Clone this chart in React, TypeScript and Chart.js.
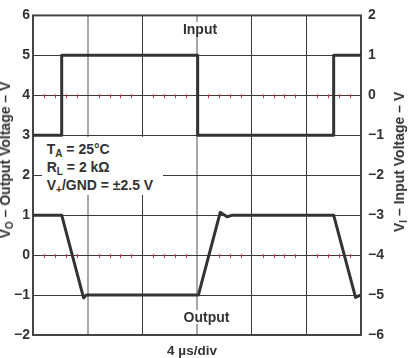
import React, { useEffect, useRef } from "react";
import { Chart, registerables } from "chart.js";

Chart.register(...registerables);

// time axis in µs (4 µs/div, 6 divisions)
const timeTicks = [0, 4, 8, 12, 16, 20, 24];
const grayTimeLines = [4, 12];
// left axis: output voltage
const leftTicks = [-2, -1, 0, 1, 2, 3, 4, 5, 6];
// right axis: input voltage
const rightTicks = [-6, -5, -4, -3, -2, -1, 0, 1, 2];
// graticule rows (left-axis values) carrying red minor marks
const markedRows = [4, 0];

const outputTimes = [0, 2.1, 3.7, 3.9, 12.1, 13.7, 14.2, 14.6, 22.0, 23.6, 23.95];
const outputVolts = [1, 1, -1.07, -1.0, -1.0, 1.07, 0.96, 1.0, 1.0, -1.06, -1.0];

const inputTimes = [0, 2.1, 2.1, 12.05, 12.05, 22.0, 22.0, 24];
const inputVolts = [-1, -1, 1, 1, -1, -1, 1, 1];

const FONT = "'Liberation Sans', Arial, Helvetica, sans-serif";
const INK = "#333333";

const fmt = (v: number) => (v < 0 ? "\u2212" + Math.abs(v) : String(v));

const framePlugin = {
  id: "frame",
  beforeDatasetsDraw(chart: any) {
    const { ctx, chartArea, scales } = chart;
    const x = scales.x;
    const y = scales.y;
    ctx.save();
    // red minor marks
    ctx.strokeStyle = "#d8323e";
    ctx.lineWidth = 1;
    for (let i = 0; i < timeTicks.length - 1; i++) {
      const a = timeTicks[i];
      const b = timeTicks[i + 1];
      for (let k = 1; k < 5; k++) {
        const px = Math.round(x.getPixelForValue(a + ((b - a) * k) / 5)) + 0.5;
        for (const r of markedRows) {
          const py = y.getPixelForValue(r);
          ctx.beginPath();
          ctx.moveTo(px, py - 1);
          ctx.lineTo(px, py + 3);
          ctx.stroke();
        }
      }
    }
    // frame
    ctx.strokeStyle = "#444444";
    ctx.lineWidth = 2;
    ctx.strokeRect(
      chartArea.left,
      chartArea.top,
      chartArea.right - chartArea.left,
      chartArea.bottom - chartArea.top
    );
    ctx.restore();
  },
};

const subStyle: React.CSSProperties = {
  fontSize: "10px",
  position: "relative",
  top: "3px",
  verticalAlign: "baseline",
};

export default function App() {
  const canvasRef = useRef<HTMLCanvasElement | null>(null);

  useEffect(() => {
    const canvas = canvasRef.current;
    if (!canvas) return;
    const chart = new Chart(canvas, {
      type: "line",
      data: {
        datasets: [
          {
            label: "Input",
            data: inputTimes.map((t, i) => ({ x: t, y: inputVolts[i] })),
            yAxisID: "y2",
            borderColor: INK,
            borderWidth: 3,
            pointRadius: 0,
            tension: 0,
            borderJoinStyle: "round",
          },
          {
            label: "Output",
            data: outputTimes.map((t, i) => ({ x: t, y: outputVolts[i] })),
            yAxisID: "y",
            borderColor: INK,
            borderWidth: 3,
            pointRadius: 0,
            tension: 0,
            borderJoinStyle: "round",
          },
        ],
      },
      options: {
        animation: false,
        responsive: false,
        devicePixelRatio: 1,
        layout: { padding: { top: 6, left: 0, right: 0, bottom: 0 } },
        plugins: {
          legend: { display: false },
          tooltip: { enabled: false },
          title: { display: false },
        },
        scales: {
          x: {
            type: "linear",
            min: timeTicks[0],
            max: timeTicks[timeTicks.length - 1],
            afterBuildTicks: (s: any) => {
              s.ticks = timeTicks.map((v) => ({ value: v }));
            },
            ticks: { display: false },
            border: { display: false },
            grid: {
              drawTicks: false,
              color: (c: any) =>
                grayTimeLines.includes(c.tick?.value) ? "#a8a8a8" : "#3a3a3a",
              lineWidth: (c: any) => (grayTimeLines.includes(c.tick?.value) ? 2 : 1),
            },
            afterFit: (s: any) => {
              s.height = 23;
            },
          },
          y: {
            type: "linear",
            position: "left",
            min: leftTicks[0],
            max: leftTicks[leftTicks.length - 1],
            afterBuildTicks: (s: any) => {
              s.ticks = leftTicks.map((v) => ({ value: v }));
            },
            ticks: {
              color: INK,
              font: { family: FONT, size: 14, weight: "bold" },
              padding: 3,
              callback: (v: any) => fmt(Number(v)),
            },
            border: { display: false },
            grid: { drawTicks: false, color: "#3a3a3a", lineWidth: 1 },
            afterFit: (s: any) => {
              s.width = 33;
            },
          },
          y2: {
            type: "linear",
            position: "right",
            min: rightTicks[0],
            max: rightTicks[rightTicks.length - 1],
            afterBuildTicks: (s: any) => {
              s.ticks = rightTicks.map((v) => ({ value: v }));
            },
            ticks: {
              color: INK,
              font: { family: FONT, size: 14, weight: "bold" },
              padding: 7,
              callback: (v: any) => fmt(Number(v)),
            },
            border: { display: false },
            grid: { display: false, drawTicks: false },
            afterFit: (s: any) => {
              s.width = 47;
            },
          },
        },
      },
      plugins: [framePlugin],
    } as any);
    return () => chart.destroy();
  }, []);

  const textBase: React.CSSProperties = {
    position: "absolute",
    fontFamily: FONT,
    fontWeight: "bold",
    color: INK,
    whiteSpace: "nowrap",
  };

  return (
    <div
      style={{
        position: "fixed",
        left: 0,
        top: 0,
        width: 408,
        height: 358,
        background: "#ffffff",
        overflow: "hidden",
      }}
    >
      <canvas
        ref={canvasRef}
        width={408}
        height={358}
        style={{ position: "absolute", left: 0, top: 0, width: 408, height: 358 }}
      />
      {/* Input label */}
      <div
        style={{
          ...textBase,
          left: 200,
          top: 22,
          fontSize: 14,
          lineHeight: "14px",
          background: "#fff",
          padding: "0 2px",
          transform: "translateX(-50%)",
        }}
      >
        Input
      </div>
      {/* Output label */}
      <div
        style={{
          ...textBase,
          left: 206.5,
          top: 310,
          fontSize: 14,
          lineHeight: "14px",
          background: "#fff",
          padding: "0 2px",
          transform: "translateX(-50%)",
        }}
      >
        Output
      </div>
      {/* x-axis title */}
      <div
        style={{
          ...textBase,
          left: 192,
          top: 344,
          fontSize: 13.5,
          lineHeight: "14px",
          transform: "translateX(-50%)",
        }}
      >
        4 µs/div
      </div>
      {/* conditions box */}
      <div
        style={{
          ...textBase,
          left: 42,
          top: 137,
          width: 121,
          height: 58,
          boxSizing: "border-box",
          paddingLeft: 4.7,
          paddingTop: 3.6,
          background: "#fff",
          fontSize: 14,
          lineHeight: "17px",
        }}
      >
        <div>
          T<span style={subStyle}>A</span> = 25°C
        </div>
        <div>
          R<span style={subStyle}>L</span> = 2 kΩ
        </div>
        <div>
          V<span style={subStyle}>+</span>/GND = ±2.5 V
        </div>
      </div>
      {/* left axis title */}
      <div
        style={{
          ...textBase,
          left: 6,
          top: 160,
          fontSize: 14,
          lineHeight: "14px",
          transform: "translate(-50%, -50%) rotate(-90deg)",
        }}
      >
        V<span style={subStyle}>O</span> – Output Voltage – V
      </div>
      {/* right axis title */}
      <div
        style={{
          ...textBase,
          left: 400,
          top: 162,
          fontSize: 14,
          lineHeight: "14px",
          transform: "translate(-50%, -50%) rotate(-90deg)",
        }}
      >
        V<span style={subStyle}>I</span> – Input Voltage – V
      </div>
    </div>
  );
}
